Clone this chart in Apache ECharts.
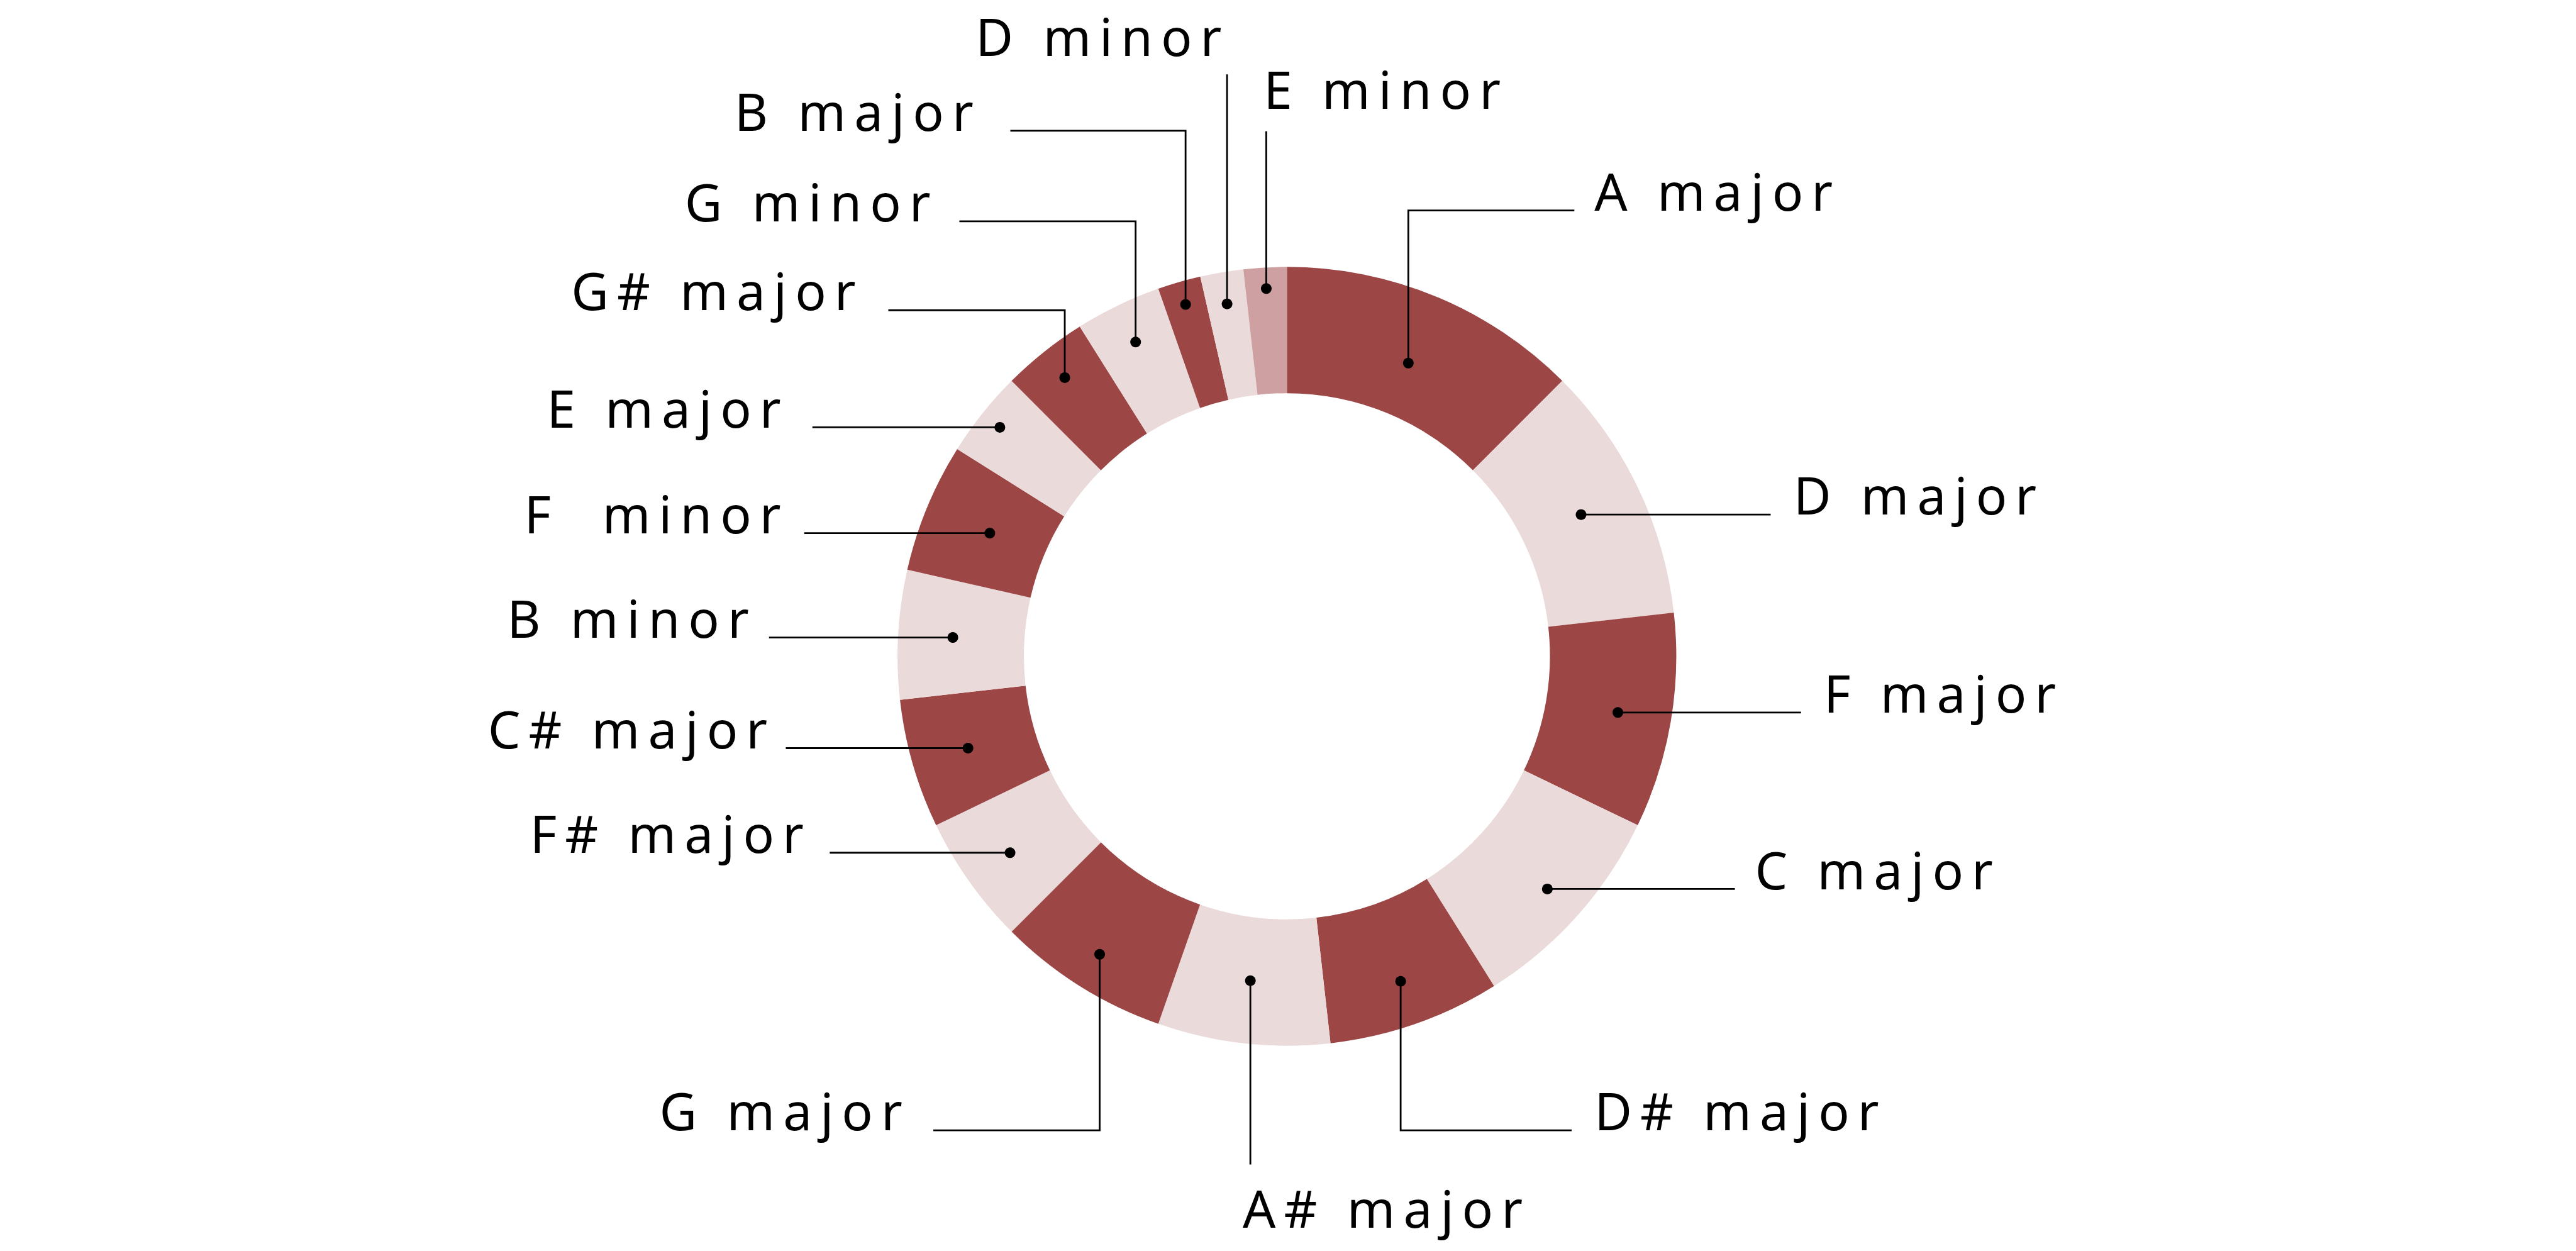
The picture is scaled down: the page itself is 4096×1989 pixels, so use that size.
<!DOCTYPE html>
<html><head><meta charset="utf-8">
<script src="https://cdn.jsdelivr.net/npm/echarts@6/dist/echarts.min.js"></script>
<style>
html,body{margin:0;padding:0;background:#fff;}
#chart{width:4096px;height:1989px;}
#chart text{letter-spacing:13px;white-space:pre;}
</style></head><body><div id="chart"></div>
<script>
// ---- data ----
const keys = ['A major','D major','F major','C major','D# major','A# major','G major','F# major','C# major','B minor','F  minor','E major','G# major','G minor','B major','D minor','E minor'];
const counts = [7,6,5,5,4,4,4,3,3,3,3,2,2,2,1,1,1];

// ---- styles ----
const DARK = '#9c4646', LIGHT = '#ebdada', MID = '#cea0a1';
const sliceColors = [DARK,LIGHT,DARK,LIGHT,DARK,LIGHT,DARK,LIGHT,DARK,LIGHT,DARK,LIGHT,DARK,LIGHT,DARK,LIGHT,MID];

// ---- layout (reference pixels, relative to ring centre) ----
const S = 4096/4750;
const REF_CX = 2373, REF_CY = 1210, REF_R = 718, REF_r = 485;
const dotRadius = [585,602,619,644,635,602,649,626,612,617,593,677,657,643,675,659,679];
const leaders = [
  {kind:'elbow', y:-822, x:530,  side:'right', gap:37},
  {kind:'h', x:892,  side:'right', gap:42},
  {kind:'h', x:948,  side:'right', gap:42},
  {kind:'h', x:826,  side:'right', gap:37},
  {kind:'elbow', y:874, x:525, side:'right', gap:42},
  {kind:'v', y:937, align:'left', dx:-14, dy:116},
  {kind:'elbow', y:874, x:-652, side:'left', gap:42},
  {kind:'h', x:-843, side:'left', gap:33},
  {kind:'h', x:-924, side:'left', gap:19},
  {kind:'h', x:-955, side:'left', gap:22},
  {kind:'h', x:-890, side:'left', gap:28},
  {kind:'h', x:-875, side:'left', gap:43},
  {kind:'elbow', y:-638, x:-735, side:'left', gap:45},
  {kind:'elbow', y:-802, x:-604, side:'left', gap:38},
  {kind:'elbow', y:-969, x:-510, side:'left', gap:53},
  {kind:'v', y:-1073, align:'right', dx:5, dy:-34},
  {kind:'v', y:-968, align:'left', dx:-5, dy:-42}
];
const FONT_SIZE = 82;
const BASE_K = 0.388; // central baseline offset (em)

const CX = REF_CX*S, CY = REF_CY*S;
const total = counts.reduce((a,b)=>a+b,0);
const mids = [];
{ let c = 0; counts.forEach(v => { mids.push(c + v/2); c += v; }); }

function dotPos(i){
  const th = mids[i]/total*2*Math.PI;
  const rr = dotRadius[i]*S;
  return [CX + rr*Math.sin(th), CY - rr*Math.cos(th)];
}

function layout(params){
  const i = params.dataIndex;
  const L = leaders[i];
  const d = dotPos(i);
  let pts, x, base, align;
  if (L.kind === 'elbow'){
    const yy = CY + L.y*S, xx = CX + L.x*S;
    pts = [d, [d[0], yy], [xx, yy]];
    align = L.side === 'right' ? 'left' : 'right';
    x = xx + (L.side === 'right' ? 1 : -1)*L.gap*S;
    base = yy;
  } else if (L.kind === 'h'){
    const xx = CX + L.x*S;
    pts = [d, [(d[0]+xx)/2, d[1]], [xx, d[1]]];
    align = L.side === 'right' ? 'left' : 'right';
    x = xx + (L.side === 'right' ? 1 : -1)*L.gap*S;
    base = d[1];
  } else {
    const yy = CY + L.y*S;
    pts = [d, [d[0], yy], [d[0], yy]];
    align = L.align;
    x = d[0] + L.dx*S;
    base = yy + L.dy*S;
  }
  return {
    x: x, y: base - BASE_K*FONT_SIZE,
    align: align, verticalAlign: 'middle',
    labelLinePoints: pts
  };
}

const pieData = keys.map((k,i)=>({name:k, value:counts[i], itemStyle:{color:sliceColors[i]}}));
const labelData = keys.map((k,i)=>({name:k, value:counts[i]}));

const chart = echarts.init(document.getElementById('chart'), null, {renderer:'svg'});
chart.setOption({
  backgroundColor: '#fff',
  animation: false,
  polar: {center:[CX, CY], radius: REF_R*S},
  radiusAxis: {type:'value', min:0, max:REF_R, show:false},
  angleAxis: {type:'value', min:0, max:total, startAngle:90, clockwise:true, show:false},
  series: [
    {
      type: 'pie',
      z: 2,
      center: [CX, CY],
      radius: [REF_r*S, REF_R*S],
      startAngle: 90,
      clockwise: true,
      silent: true,
      emphasis: {disabled: true},
      itemStyle: {borderWidth: 0},
      label: {show: false},
      labelLine: {show: false},
      data: pieData
    },
    {
      type: 'pie',
      z: 5,
      center: [CX, CY],
      radius: [REF_r*S, REF_R*S],
      startAngle: 90,
      clockwise: true,
      avoidLabelOverlap: false,
      minShowLabelAngle: 0,
      silent: true,
      emphasis: {disabled: true},
      itemStyle: {color: 'rgba(0,0,0,0)', borderWidth: 0},
      data: labelData,
      label: {
        show: true, position: 'outside', formatter: '{b}',
        fontFamily: 'Noto Sans', fontSize: FONT_SIZE, lineHeight: FONT_SIZE, color: '#000'
      },
      labelLine: {show: true, length: 5, length2: 5, smooth: false,
        lineStyle: {color:'#000', width: 2.8}},
      labelLayout: layout
    },
    {
      type: 'scatter',
      coordinateSystem: 'polar',
      silent: true,
      z: 10,
      symbol: 'circle',
      symbolSize: 17,
      itemStyle: {color:'#000', opacity: 1},
      data: mids.map((m,i)=>[dotRadius[i], m])
    }
  ]
});
</script></body></html>
